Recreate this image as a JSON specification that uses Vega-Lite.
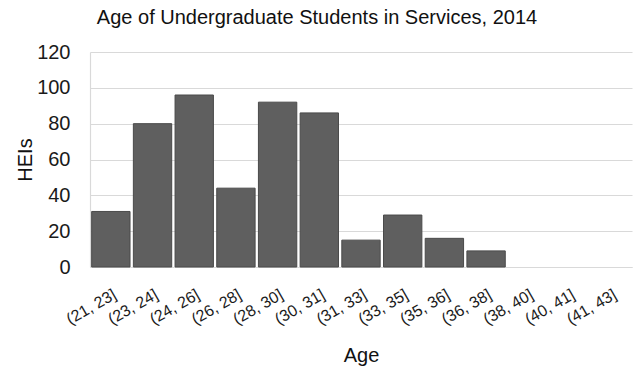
{
  "$schema": "https://vega.github.io/schema/vega-lite/v6.json",
  "width": 542,
  "height": 215,
  "autosize": {"type": "none"},
  "padding": {"left": 90, "top": 52, "right": 3, "bottom": 103},
  "background": "white",
  "title": {
    "text": "Age of Undergraduate Students in Services, 2014",
    "font": "Liberation Sans",
    "fontSize": 20,
    "fontWeight": "normal",
    "color": "#111111",
    "anchor": "middle",
    "dx": -44,
    "offset": 14
  },
  "data": {
    "values": [
      {"age": "(21, 23]", "heis": 31},
      {"age": "(23, 24]", "heis": 80},
      {"age": "(24, 26]", "heis": 96},
      {"age": "(26, 28]", "heis": 44},
      {"age": "(28, 30]", "heis": 92},
      {"age": "(30, 31]", "heis": 86},
      {"age": "(31, 33]", "heis": 15},
      {"age": "(33, 35]", "heis": 29},
      {"age": "(35, 36]", "heis": 16},
      {"age": "(36, 38]", "heis": 9},
      {"age": "(38, 40]", "heis": 0},
      {"age": "(40, 41]", "heis": 0},
      {"age": "(41, 43]", "heis": 0}
    ]
  },
  "mark": {"type": "bar", "color": "#5f5f5f", "stroke": "#4a4a4a", "strokeWidth": 1},
  "encoding": {
    "x": {
      "field": "age",
      "type": "ordinal",
      "sort": null,
      "scale": {"paddingInner": 0.08, "paddingOuter": 0.04},
      "axis": {
        "title": "Age",
        "labelAngle": -30,
        "labelAlign": "right",
        "labelBaseline": "top",
        "labelFont": "Liberation Sans",
        "labelFontSize": 16,
        "labelColor": "#1a1a1a",
        "labelPadding": 19,
        "labelOverlap": false,
        "ticks": false,
        "tickSize": 0,
        "domainColor": "#d9d9d9",
        "domainWidth": 1.2,
        "titleFont": "Liberation Sans",
        "titleFontSize": 20,
        "titleFontWeight": "normal",
        "titleColor": "#111111",
        "titleY": 88,
        "titleBaseline": "middle"
      }
    },
    "y": {
      "field": "heis",
      "type": "quantitative",
      "scale": {"domain": [0, 120]},
      "axis": {
        "title": "HEIs",
        "values": [0, 20, 40, 60, 80, 100, 120],
        "labelFont": "Liberation Sans",
        "labelFontSize": 20,
        "labelColor": "#1a1a1a",
        "labelPadding": 20,
        "ticks": false,
        "tickSize": 0,
        "domainColor": "#d9d9d9",
        "domainWidth": 1.2,
        "gridColor": "#d9d9d9",
        "gridWidth": 1.2,
        "titleFont": "Liberation Sans",
        "titleFontSize": 20,
        "titleFontWeight": "normal",
        "titleColor": "#111111",
        "titleAngle": -90,
        "titleX": -65,
        "titleY": 107.5,
        "titleAlign": "center",
        "titleBaseline": "middle"
      }
    },
    "strokeOpacity": {
      "condition": {"test": "datum.heis > 0", "value": 1},
      "value": 0
    }
  },
  "config": {"view": {"stroke": null}}
}
